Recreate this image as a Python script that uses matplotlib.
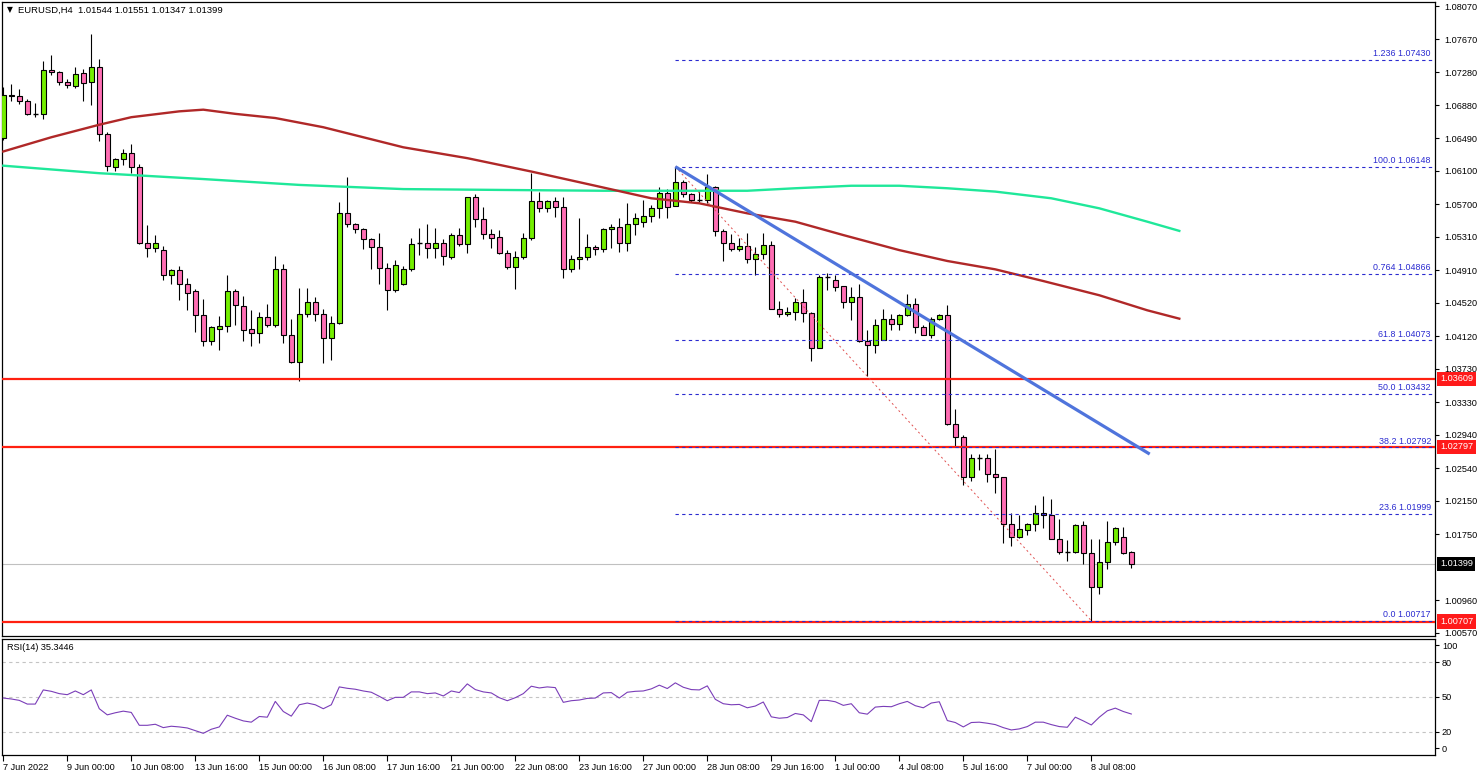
import matplotlib
matplotlib.use('Agg')
import matplotlib.pyplot as plt
import matplotlib.transforms as mtransforms
import numpy as np

plt.rcParams['font.family'] = ['Liberation Sans', 'DejaVu Sans']

# ---------------- data ----------------
opens = [1.0649, 1.0701, 1.0699, 1.0693, 1.0678, 1.0678, 1.0731, 1.0728, 1.0716, 1.0711,
         1.0727, 1.0716, 1.0734, 1.0654, 1.0615, 1.0624, 1.0631, 1.0614, 1.0524, 1.0518,
         1.0515, 1.0485, 1.0491, 1.0474, 1.0466, 1.0437, 1.0406, 1.0421, 1.0424, 1.0466,
         1.0448, 1.0421, 1.0416, 1.0435, 1.0426, 1.0493, 1.0414, 1.0381, 1.0439, 1.0453,
         1.0438, 1.0410, 1.0428, 1.0559, 1.0546, 1.0540, 1.0528, 1.0519, 1.0494, 1.0467,
         1.0475, 1.0493, 1.0524, 1.0524, 1.0517, 1.0523, 1.0507, 1.0533, 1.0522, 1.0578,
         1.0552, 1.0534, 1.0531, 1.0512, 1.0495, 1.0507, 1.0530, 1.0574, 1.0565, 1.0574,
         1.0566, 1.0493, 1.0504, 1.0507, 1.0519, 1.0516, 1.0540, 1.0543, 1.0524, 1.0546,
         1.0549, 1.0556, 1.0565, 1.0583, 1.0568, 1.0597, 1.0582, 1.0575, 1.0575, 1.0591,
         1.0538, 1.0523, 1.0516, 1.0520, 1.0504, 1.0510, 1.0521, 1.0445, 1.0438, 1.0441,
         1.0453, 1.0440, 1.0398, 1.0483, 1.0479, 1.0472, 1.0453, 1.0459, 1.0406, 1.0401,
         1.0408, 1.0433, 1.0427, 1.0437, 1.0450, 1.0423, 1.0414, 1.0433, 1.0437, 1.0307,
         1.0291, 1.0244, 1.0266, 1.0266, 1.0247, 1.0244, 1.0187, 1.0172, 1.0180, 1.0187,
         1.0201, 1.0198, 1.0170, 1.0154, 1.0154, 1.0186, 1.0153, 1.0112, 1.0142, 1.0166,
         1.0172, 1.01544]
highs = [1.0710, 1.0714, 1.0708, 1.0696, 1.0691, 1.0741, 1.0748, 1.0729, 1.0720, 1.0734,
         1.0732, 1.0774, 1.0744, 1.0656, 1.0625, 1.0636, 1.0642, 1.0618, 1.0545, 1.0533,
         1.0520, 1.0493, 1.0496, 1.0482, 1.0469, 1.0457, 1.0424, 1.0436, 1.0485, 1.0469,
         1.0460, 1.0443, 1.0441, 1.0451, 1.0508, 1.0498, 1.0433, 1.0470, 1.0470, 1.0459,
         1.0445, 1.0436, 1.0573, 1.0602, 1.0547, 1.0542, 1.0530, 1.0535, 1.0499, 1.0503,
         1.0496, 1.0530, 1.0542, 1.0546, 1.0541, 1.0528, 1.0535, 1.0542, 1.0579, 1.0582,
         1.0566, 1.0540, 1.0539, 1.0515, 1.0514, 1.0535, 1.0607, 1.0584, 1.0575, 1.0579,
         1.0579, 1.0509, 1.0554, 1.0534, 1.0521, 1.0542, 1.0546, 1.0554, 1.0571, 1.0559,
         1.0575, 1.0569, 1.0591, 1.0588, 1.06148, 1.0599, 1.0583, 1.0586, 1.0606, 1.0592,
         1.0540, 1.0534, 1.0530, 1.0535, 1.0519, 1.0535, 1.0526, 1.0454, 1.0447, 1.0458,
         1.0468, 1.0441, 1.0485, 1.0488, 1.0485, 1.0472, 1.0471, 1.0474, 1.0419, 1.0433,
         1.0444, 1.0439, 1.0439, 1.0462, 1.0458, 1.0425, 1.0435, 1.0438, 1.0449, 1.0325,
         1.0294, 1.0271, 1.0271, 1.0271, 1.0277, 1.0244, 1.0200, 1.0198, 1.0189, 1.0210,
         1.0221, 1.0217, 1.0193, 1.0168, 1.0187, 1.0191, 1.0169, 1.0169, 1.0191, 1.0184,
         1.0184, 1.01551]
lows = [1.0647, 1.0693, 1.0690, 1.0677, 1.0674, 1.0672, 1.0724, 1.0712, 1.0709, 1.0709,
        1.0693, 1.0688, 1.0645, 1.0610, 1.0610, 1.0617, 1.0607, 1.0522, 1.0507, 1.0513,
        1.0479, 1.0475, 1.0455, 1.0443, 1.0417, 1.0400, 1.0402, 1.0396, 1.0417, 1.0425,
        1.0406, 1.0400, 1.0404, 1.0423, 1.0423, 1.0404, 1.0380, 1.0358, 1.0435, 1.0430,
        1.0380, 1.0383, 1.0427, 1.0543, 1.0535, 1.0516, 1.0493, 1.0475, 1.0443, 1.0465,
        1.0473, 1.0490, 1.0509, 1.0506, 1.0506, 1.0497, 1.0504, 1.0520, 1.0512, 1.0543,
        1.0528, 1.0518, 1.0510, 1.0493, 1.0468, 1.0504, 1.0527, 1.0561, 1.0560, 1.0555,
        1.0482, 1.0489, 1.0493, 1.0503, 1.0509, 1.0513, 1.0517, 1.0513, 1.0514, 1.0533,
        1.0543, 1.0549, 1.0553, 1.0553, 1.0568, 1.0579, 1.0572, 1.0572, 1.0571, 1.0532,
        1.0502, 1.0514, 1.0514, 1.0500, 1.0485, 1.0504, 1.0444, 1.0435, 1.0436, 1.0431,
        1.0429, 1.0382, 1.0398, 1.0467, 1.0466, 1.0446, 1.0432, 1.0405, 1.0364, 1.0392,
        1.0407, 1.0420, 1.0420, 1.0436, 1.0416, 1.0413, 1.0410, 1.0432, 1.0306, 1.0281,
        1.0234, 1.0239, 1.0252, 1.0238, 1.0225, 1.0165, 1.0161, 1.0171, 1.0174, 1.0179,
        1.0182, 1.0169, 1.0151, 1.0143, 1.0153, 1.0139, 1.00717, 1.0104, 1.0134, 1.0162,
        1.0152, 1.01347]
closes = [1.0701, 1.0699, 1.0693, 1.0678, 1.0678, 1.0731, 1.0728, 1.0716, 1.0712, 1.0726,
          1.0715, 1.0734, 1.0654, 1.0616, 1.0624, 1.0631, 1.0614, 1.0524, 1.0518, 1.0523,
          1.0485, 1.0491, 1.0475, 1.0464, 1.0437, 1.0406, 1.0423, 1.0424, 1.0466, 1.0449,
          1.0420, 1.0416, 1.0435, 1.0426, 1.0493, 1.0414, 1.0381, 1.0439, 1.0453, 1.0438,
          1.0410, 1.0428, 1.0559, 1.0546, 1.0540, 1.0528, 1.0519, 1.0494, 1.0467, 1.0497,
          1.0493, 1.0522, 1.0524, 1.0517, 1.0523, 1.0508, 1.0533, 1.0522, 1.0578, 1.0552,
          1.0534, 1.0529, 1.0512, 1.0495, 1.0507, 1.0530, 1.0574, 1.0565, 1.0574, 1.0566,
          1.0493, 1.0504, 1.0507, 1.0519, 1.0516, 1.0540, 1.0543, 1.0524, 1.0546, 1.0553,
          1.0556, 1.0565, 1.0583, 1.0567, 1.0597, 1.0582, 1.0575, 1.0575, 1.0591, 1.0538,
          1.0523, 1.0516, 1.0520, 1.0504, 1.0510, 1.0521, 1.0445, 1.0439, 1.0441, 1.0453,
          1.0440, 1.0398, 1.0483, 1.0483, 1.0471, 1.0453, 1.0459, 1.0406, 1.0402, 1.0426,
          1.0433, 1.0427, 1.0437, 1.0450, 1.0423, 1.0414, 1.0433, 1.0437, 1.0307, 1.0291,
          1.0244, 1.0266, 1.0266, 1.0247, 1.0244, 1.0187, 1.0172, 1.0181, 1.0187, 1.0201,
          1.0198, 1.0170, 1.0154, 1.0154, 1.0186, 1.0153, 1.0112, 1.0142, 1.0166, 1.0183,
          1.0153, 1.01399]

rsi_values = [49.1, 48.3, 47.1, 43.9, 43.9, 56.1, 54.9, 52.9, 52.0, 55.2,
              52.0, 56.1, 39.9, 34.6, 36.4, 37.8, 36.7, 25.6, 25.6, 26.5,
              23.6, 24.8, 24.2, 23.3, 21.0, 18.7, 22.2, 24.2, 34.3, 31.7,
              29.4, 28.3, 33.2, 32.6, 46.2, 37.5, 33.5, 43.3, 44.8, 43.3,
              39.9, 43.3, 58.7, 57.5, 56.7, 55.2, 54.1, 50.6, 46.8, 49.7,
              49.7, 54.4, 54.4, 52.9, 53.5, 50.9, 55.2, 53.8, 61.3, 56.4,
              54.4, 53.5, 49.4, 46.8, 49.4, 52.9, 59.3, 57.8, 58.7, 58.1,
              45.4, 46.8, 47.4, 48.8, 49.1, 53.5, 53.8, 49.1, 54.1, 54.9,
              55.2, 57.0, 60.2, 57.3, 62.2, 58.4, 56.4, 56.1, 59.6, 48.0,
              44.2, 43.3, 43.6, 40.7, 42.2, 45.7, 32.9, 31.7, 32.3, 35.8,
              34.6, 28.8, 47.1, 47.1, 45.9, 42.8, 44.2, 36.4, 35.2, 41.3,
              41.9, 41.6, 44.2, 46.2, 42.5, 40.7, 44.8, 45.9, 29.7, 28.0,
              24.2, 28.0, 28.3, 27.4, 26.2, 23.6, 21.6, 22.5, 24.5, 28.3,
              28.3, 26.2, 24.5, 23.9, 32.6, 29.4, 25.9, 32.6, 38.1, 40.4,
              37.5, 35.34]

red_ma_bars = [0, 6, 12, 16, 22, 25, 29, 34, 40, 45, 50, 58, 66, 74, 81, 87, 93,
               99, 105, 112, 118, 124, 130, 137, 143, 147]
red_ma_vals = [1.0633, 1.0650, 1.0665, 1.0674, 1.0681, 1.0683, 1.0678, 1.0673, 1.0662,
               1.0650, 1.0638, 1.0625, 1.0609, 1.0592, 1.0577, 1.0571, 1.0559, 1.0549,
               1.0533, 1.0515, 1.0502, 1.0492, 1.0478, 1.0461, 1.0443, 1.0433]
green_ma_bars = [0, 12, 25, 37, 50, 62, 75, 81, 87, 93, 99, 106, 112, 118, 124, 131,
                 137, 143, 147]
green_ma_vals = [1.0616, 1.0607, 1.0600, 1.0593, 1.0588, 1.0587, 1.0586, 1.0586, 1.0586,
                 1.0586, 1.0589, 1.0592, 1.0592, 1.0589, 1.0585, 1.0577, 1.0565, 1.0549,
                 1.0538]

fib_names = ["1.236", "100.0", "0.764", "61.8", "50.0", "38.2", "23.6", "0.0"]
fib_prices = [1.07430, 1.06148, 1.04866, 1.04073, 1.03432, 1.02792, 1.01999, 1.00717]
fib_start_bar = 84
fib_anchor_bars = [84, 136]
fib_anchor_prices = [1.06148, 1.00717]

trend_bars = [84, 143.3]
trend_prices = [1.06148, 1.0271]

support_levels = [1.03609, 1.02797, 1.00707]
last_price = 1.01399

price_ticks = [1.08070, 1.07670, 1.07280, 1.06880, 1.06490, 1.06100, 1.05700, 1.05310,
               1.04910, 1.04520, 1.04120, 1.03730, 1.03330, 1.02940, 1.02540, 1.02150,
               1.01750, 1.00960, 1.00570]

date_tick_bars = list(range(0, 137, 8))
date_labels = ["7 Jun 2022", "9 Jun 00:00", "10 Jun 08:00", "13 Jun 16:00", "15 Jun 00:00",
               "16 Jun 08:00", "17 Jun 16:00", "21 Jun 00:00", "22 Jun 08:00", "23 Jun 16:00",
               "27 Jun 00:00", "28 Jun 08:00", "29 Jun 16:00", "1 Jul 00:00", "4 Jul 08:00",
               "5 Jul 16:00", "7 Jul 00:00", "8 Jul 08:00"]

rsi_levels = [20, 50, 80]
header_text = "EURUSD,H4  1.01544 1.01551 1.01347 1.01399"
rsi_text = "RSI(14) 35.3446"

# ---------------- layout ----------------
W, H = 1480, 776
fig = plt.figure(figsize=(W / 100, H / 100), dpi=100)
fig.patch.set_facecolor('white')


def rect(x0, y0, x1, y1):
    return [x0 / W, 1 - y1 / H, (x1 - x0) / W, (y1 - y0) / H]


ax = fig.add_axes(rect(2, 2, 1435, 636))
axr = fig.add_axes(rect(2, 639, 1435, 755))

XMIN, XMAX = -0.16, 178.96
for a in (ax, axr):
    a.set_xlim(XMIN, XMAX)
    for s in a.spines.values():
        s.set_color('black')
        s.set_linewidth(0.9)
ax.set_ylim(1.00534, 1.08118)
axr.set_ylim(0, 100)

GREEN = '#74ee00'
PINK = '#ff6eb4'

o = np.array(opens)
h = np.array(highs)
l = np.array(lows)
c = np.array(closes)
bars = np.arange(len(o))
up = c > o
dn = c < o
eq = ~(up | dn)
BW = 0.62

ax.vlines(bars, l, h, color='black', lw=0.8, zorder=2)
ax.bar(bars[up], (c - o)[up], bottom=o[up], width=BW, color=GREEN,
       edgecolor='black', linewidth=0.8, zorder=3)
ax.bar(bars[dn], (o - c)[dn], bottom=c[dn], width=BW, color=PINK,
       edgecolor='black', linewidth=0.8, zorder=3)
ax.hlines(o[eq], bars[eq] - BW / 2, bars[eq] + BW / 2, color='black', lw=1.0, zorder=3)

# moving averages
ax.plot(green_ma_bars, green_ma_vals, color='#1fe89a', lw=1.7, zorder=4)
ax.plot(red_ma_bars, red_ma_vals, color='#b02828', lw=1.7, zorder=4)

# support / resistance lines
for lv in support_levels:
    ax.axhline(lv, color='#ff2010', lw=1.6, zorder=4)
ax.axhline(last_price, color='#c0c0c0', lw=0.8, zorder=1)

# fib retracement
ax.hlines(fib_prices, fib_start_bar, XMAX, colors='#2a2ad0', lw=0.8,
          linestyles=(0, (3, 3)), zorder=4)
ax.plot(fib_anchor_bars, fib_anchor_prices, color='#e05050', lw=0.7,
        ls=(0, (2, 3)), zorder=4)
for name, pr in zip(fib_names, fib_prices):
    ax.text(178.45, pr + 0.00018, f"{name} {pr:.5f}", ha='right', va='bottom',
            color='#2a2ad0', fontsize=6.4, zorder=5)

# trend line
ax.plot(trend_bars, trend_prices, color='#4f74dc', lw=2.3, zorder=5,
        solid_capstyle='butt')

# price axis
ax.set_xticks([])
ax.yaxis.tick_right()
ax.set_yticks(price_ticks)
ax.set_yticklabels([f"{p:.5f}" for p in price_ticks])
ax.tick_params(axis='y', length=3, width=0.8, labelsize=6.6, pad=4, colors='black')

tr = mtransforms.blended_transform_factory(ax.transAxes, ax.transData)
for lv in support_levels:
    ax.text(1.0 + 5 / 1433, lv, f"{lv:.5f}", transform=tr, ha='left', va='center',
            color='white', fontsize=6.6, clip_on=False, zorder=10,
            bbox=dict(boxstyle='square,pad=0.28', facecolor='#ff1a1a', edgecolor='none'))
ax.text(1.0 + 5 / 1433, last_price, f"{last_price:.5f}", transform=tr, ha='left',
        va='center', color='white', fontsize=6.6, clip_on=False, zorder=10,
        bbox=dict(boxstyle='square,pad=0.28', facecolor='black', edgecolor='none'))

# header
ax.text(5 / 1433, 1 - 8 / 634, "\u25BC", transform=ax.transAxes, ha='left', va='center',
        fontsize=5.5, family=['DejaVu Sans'], color='black')
ax.text(16 / 1433, 1 - 8 / 634, header_text, transform=ax.transAxes, ha='left',
        va='center', fontsize=6.8, color='black')

# RSI panel
axr.plot(bars, rsi_values, color='#7a3db8', lw=0.8, zorder=3)
for lv in rsi_levels:
    axr.axhline(lv, color='#c4c4c4', lw=0.8, ls=(0, (3, 3)), zorder=1)
axr.yaxis.tick_right()
axr.set_yticks([5.8, 20, 50, 80, 94.8])
axr.set_yticklabels(['0', '20', '50', '80', '100'])
axr.tick_params(axis='y', length=3, width=0.8, labelsize=6.6, pad=2)
axr.set_xticks(date_tick_bars)
axr.set_xticklabels(date_labels, ha='left',
                    fontfamily=['Liberation Sans Narrow', 'Liberation Sans', 'DejaVu Sans'])
axr.tick_params(axis='x', length=4, width=0.8, labelsize=6.6, pad=2)
axr.text(5 / 1433, 0.93, rsi_text, transform=axr.transAxes, ha='left', va='center',
         fontsize=6.6, color='black')

fig.savefig('out.png', dpi=100, facecolor='white')
